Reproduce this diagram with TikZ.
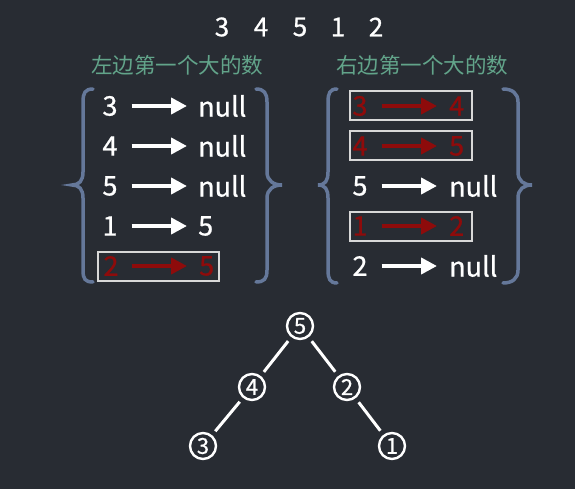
\documentclass[tikz,border=0pt]{standalone}
\usepackage{fontspec}
\setmainfont{Noto Sans CJK SC}[FakeBold=0.8]
\newfontfamily\thinfont{Noto Sans CJK SC}
\usetikzlibrary{arrows.meta}
\definecolor{bg}{HTML}{282C33}
\definecolor{headgreen}{HTML}{62A48A}
\definecolor{bracecol}{HTML}{65789A}
\definecolor{darkred}{HTML}{8E0B0B}
\definecolor{boxcol}{HTML}{D8D8D8}
\tikzset{
  num/.style={text=white, font=\fontsize{27}{27}\selectfont, inner sep=0pt, anchor=center},
  tgt/.style={text=white, font=\fontsize{27}{27}\selectfont, inner sep=0pt, anchor=west},
  rednum/.style={num, text=darkred},
  redtgt/.style={tgt, text=darkred},
  warrow/.style={draw=white, line width=4.5pt, -{Triangle[length=16pt,width=16pt]}},
  rarrow/.style={warrow, draw=darkred, fill=darkred},
  hlbox/.style={draw=boxcol, line width=1.4pt},
  brace/.style={draw=bracecol, line width=3.5pt, line cap=round},
  head/.style={text=headgreen, font=\thinfont\fontsize{21.5}{22}\selectfont, inner sep=0pt},
  tnode/.style={circle, draw=white, line width=2.4pt, minimum size=26pt, inner sep=0pt, text=white, font=\fontsize{22}{22}\selectfont},
  tedge/.style={draw=white, line width=3pt, shorten <=5pt, shorten >=5pt},
  top/.style={text=white, font=\fontsize{26}{26}\selectfont, inner sep=0pt}
}
\begin{document}
\begin{tikzpicture}[x=1pt,y=-1pt]
\useasboundingbox[fill=bg] (0,0) rectangle (575,489);
% top sequence
\node[top] (s1) at (222,27) {3};
\node[top] (s2) at (261,27) {4};
\node[top] (s3) at (300,27) {5};
\node[top] (s4) at (338,27) {1};
\node[top] (s5) at (376,27) {2};
% headings
\node[head] (hl) at (177,65) {左边第一个大的数};
\node[head] (hr) at (422,65) {右边第一个大的数};
% left list
\node[num] (la) at (110,106) {3}; \node[tgt] (lat) at (198,106) {null};
\node[num] (lb) at (110,146) {4}; \node[tgt] (lbt) at (198,146) {null};
\node[num] (lc) at (110,186) {5}; \node[tgt] (lct) at (198,186) {null};
\node[num] (ld) at (110,226) {1}; \node[tgt] (ldt) at (198,226) {5};
\node[rednum] (le) at (111,266) {2}; \node[redtgt] (let) at (199,266) {5};
\foreach \a/\b in {la/lat,lb/lbt,lc/lct,ld/ldt}
  \draw[warrow, shorten <=14pt, shorten >=11pt] (\a.east) -- (\b.west);
\draw[rarrow, shorten <=13pt, shorten >=12pt] (le.east) -- (let.west);
\draw[hlbox] (98,252) rectangle (219,281);
% left braces
\draw[brace] (93,89) .. controls (85,89) and (83,93) .. (83,102) -- (83,172)
  .. controls (83,181) and (79,185) .. (72,185)
  .. controls (79,185) and (83,189) .. (83,198) -- (83,270)
  .. controls (83,279) and (85,282) .. (93,282);
\draw[brace] (256,89) .. controls (264,89) and (267,93) .. (267,102) -- (267,172)
  .. controls (267,181) and (274,185) .. (282,185)
  .. controls (274,185) and (267,189) .. (267,198) -- (267,270)
  .. controls (267,279) and (264,282) .. (256,282);
% right list
\node[rednum] (ra) at (360,106) {3}; \node[redtgt] (rat) at (449,106) {4};
\node[rednum] (rb) at (360,146) {4}; \node[redtgt] (rbt) at (449,146) {5};
\node[num] (rc) at (360,186) {5}; \node[tgt] (rct) at (449,186) {null};
\node[rednum] (rd) at (360,226) {1}; \node[redtgt] (rdt) at (449,226) {2};
\node[num] (re) at (360,266) {2}; \node[tgt] (ret) at (449,266) {null};
\foreach \a/\b in {ra/rat,rb/rbt,rd/rdt}
  \draw[rarrow, shorten <=14pt, shorten >=12pt] (\a.east) -- (\b.west);
\foreach \a/\b in {rc/rct,re/ret}
  \draw[warrow, shorten <=14pt, shorten >=12pt] (\a.east) -- (\b.west);
\draw[hlbox] (350,91) rectangle (472,120);
\draw[hlbox] (350,131) rectangle (472,160);
\draw[hlbox] (350,212) rectangle (472,241);
% right braces
\draw[brace] (337,89) .. controls (330,89) and (328,93) .. (328,102) -- (328,172)
  .. controls (328,181) and (325,185) .. (318,185)
  .. controls (325,185) and (328,189) .. (328,198) -- (328,270)
  .. controls (328,279) and (330,283) .. (337,283);
\draw[brace] (503,89) .. controls (512,89) and (518,93) .. (518,102) -- (518,172)
  .. controls (518,181) and (524,185) .. (532,185)
  .. controls (524,185) and (518,189) .. (518,198) -- (518,270)
  .. controls (518,279) and (512,283) .. (503,283);
% tree
\node[tnode] (t5) at (300,326) {5};
\node[tnode] (t4) at (252,387) {4};
\node[tnode] (t2) at (347,387) {2};
\node[tnode] (t3) at (203,446) {3};
\node[tnode] (t1) at (392,446) {1};
\draw[tedge] (t5) -- (t4);
\draw[tedge] (t5) -- (t2);
\draw[tedge] (t4) -- (t3);
\draw[tedge] (t2) -- (t1);
\end{tikzpicture}
\end{document}
